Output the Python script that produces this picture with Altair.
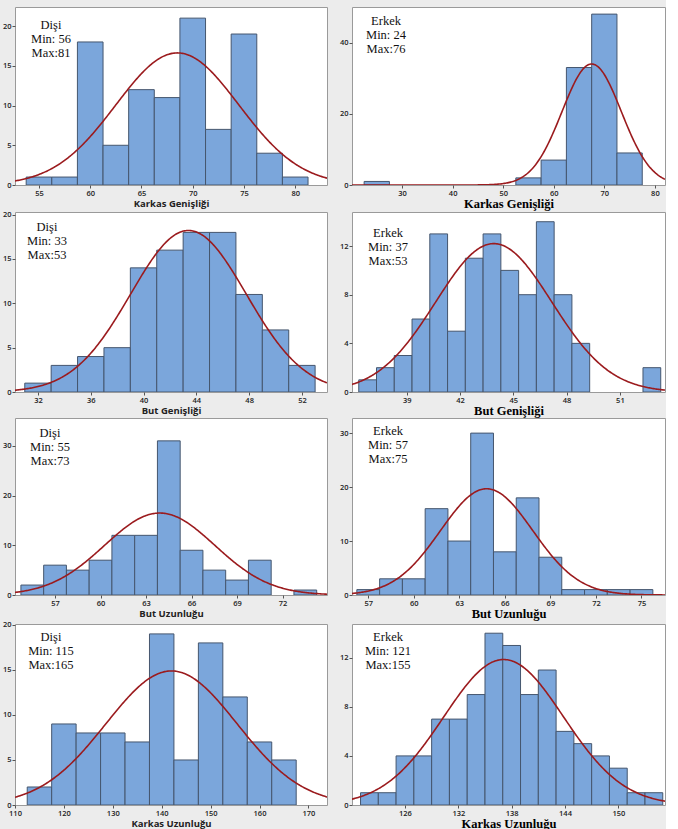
import altair as alt
import pandas as pd

# ---------------- values ----------------
# 1) Dişi - Karkas Genişliği
kg_f_mid = [55, 57.5, 60, 62.5, 65, 67.5, 70, 72.5, 75, 77.5, 80]
kg_f_cnt = [1, 1, 18, 5, 12, 11, 21, 7, 19, 4, 1]
kg_f_fit = [68.5, 6.0]          # mean, sd of the fitted normal curve
# 2) Erkek - Karkas Genişliği
kg_m_mid = [25, 55, 60, 65, 70, 75]
kg_m_cnt = [1, 2, 7, 33, 48, 9]
kg_m_fit = [67.5, 5.87]
# 3) Dişi - But Genişliği
bg_f_mid = [32, 34, 36, 38, 40, 42, 44, 46, 48, 50, 52]
bg_f_cnt = [1, 3, 4, 5, 14, 16, 18, 18, 11, 7, 3]
bg_f_fit = [43.4, 4.38]
# 4) Erkek - But Genişliği
bg_m_mid = [36.8, 37.8, 38.8, 39.8, 40.8, 41.8, 42.8, 43.8, 44.8, 45.8, 46.8, 47.8, 48.8, 52.8]
bg_m_cnt = [1, 2, 3, 6, 13, 5, 11, 13, 10, 8, 14, 8, 4, 2]
bg_m_fit = [43.9, 3.27]
# 5) Dişi - But Uzunluğu
bu_f_mid = [55.5, 57, 58.5, 60, 61.5, 63, 64.5, 66, 67.5, 69, 70.5, 73.5]
bu_f_cnt = [2, 6, 5, 7, 12, 12, 31, 9, 5, 3, 7, 1]
bu_f_fit = [63.9, 3.63]
# 6) Erkek - But Uzunluğu
bu_m_mid = [57, 58.5, 60, 61.5, 63, 64.5, 66, 67.5, 69, 70.5, 72, 73.5, 75]
bu_m_cnt = [1, 3, 3, 16, 10, 30, 8, 18, 7, 1, 1, 1, 1]
bu_m_fit = [64.8, 3.04]
# 7) Dişi - Karkas Uzunluğu
ku_f_mid = [115, 120, 125, 130, 135, 140, 145, 150, 155, 160, 165]
ku_f_cnt = [2, 9, 8, 8, 7, 19, 5, 18, 12, 7, 5]
ku_f_fit = [142.0, 13.4]
# 8) Erkek - Karkas Uzunluğu
ku_m_mid = [122, 124, 126, 128, 130, 132, 134, 136, 138, 140, 142, 144, 146, 148, 150, 152, 154]
ku_m_cnt = [1, 1, 4, 4, 7, 7, 9, 14, 13, 9, 11, 6, 5, 4, 3, 1, 1]
ku_m_fit = [137.1, 6.73]

bin_widths = [2.5, 5, 2, 1, 1.5, 1.5, 5, 2]
groups = ["Dişi", "Erkek", "Dişi", "Erkek", "Dişi", "Erkek", "Dişi", "Erkek"]
mins = [56, 24, 33, 37, 55, 57, 115, 121]
maxs = [81, 76, 53, 53, 73, 75, 165, 155]
x_titles = ["Karkas Genişliği", "Karkas Genişliği", "But Genişliği", "But Genişliği",
            "But Uzunluğu", "But Uzunluğu", "Karkas Uzunluğu", "Karkas Uzunluğu"]
x_ticks = [[55, 60, 65, 70, 75, 80], [30, 40, 50, 60, 70, 80], [32, 36, 40, 44, 48, 52],
           [39, 42, 45, 48, 51], [57, 60, 63, 66, 69, 72], [57, 60, 63, 66, 69, 72, 75],
           [110, 120, 130, 140, 150, 160, 170], [126, 132, 138, 144, 150]]
y_ticks = [[0, 5, 10, 15, 20], [0, 10, 20, 30, 40, 50], [0, 5, 10, 15, 20],
           [0, 2, 4, 6, 8, 10, 12, 14], [0, 5, 10, 15, 20, 25, 30, 35],
           [0, 5, 10, 15, 20, 25, 30], [0, 5, 10, 15, 20], [0, 2, 4, 6, 8, 10, 12, 14]]

mids = [kg_f_mid, kg_m_mid, bg_f_mid, bg_m_mid, bu_f_mid, bu_m_mid, ku_f_mid, ku_m_mid]
cnts = [kg_f_cnt, kg_m_cnt, bg_f_cnt, bg_m_cnt, bu_f_cnt, bu_m_cnt, ku_f_cnt, ku_m_cnt]
fits = [kg_f_fit, kg_m_fit, bg_f_fit, bg_m_fit, bu_f_fit, bu_m_fit, ku_f_fit, ku_m_fit]

# ---------------- layout (not data) ----------------
x_domains = [[52.66, 83.1], [20.1, 82.0], [30.26, 53.9], [35.92, 53.54],
             [54.36, 74.93], [55.93, 76.55], [110, 173.8], [120.04, 155.25]]
y_max = [22.4, 50.0, 20.3, 14.8, 35.6, 32.8, 20.1, 14.75]
row_h = [178, 180, 177, 181]
col_w = [312, 313]
txt_pos = [(36, 22), (34, 18), (32, 19), (36, 25), (35, 19), (36, 17), (36, 17), (36, 17)]

BAR_FILL = "#7BA6DB"
BAR_STROKE = "#45566E"
CURVE = "#9B1B1E"


def panel(i):
    mid, cnt, bw = mids[i], cnts[i], bin_widths[i]
    mu, sd = fits[i]
    n = sum(cnt)
    lo, hi = x_domains[i]
    right = i % 2 == 1
    w = col_w[1 if right else 0]
    h = row_h[i // 2]

    df = pd.DataFrame({"mid": mid, "count": cnt})
    df["start"] = df["mid"] - bw / 2
    df["end"] = df["mid"] + bw / 2
    df["base"] = 0

    xs = alt.Scale(domain=[lo, hi], nice=False, zero=False)
    ys = alt.Scale(domain=[0, y_max[i]], nice=False, zero=True)
    if right:
        tfont, tsize, tpad = "Liberation Serif", 12.5, 0
        tcol = "#000000"
    else:
        tfont, tsize, tpad = "Open Sans", 9.5, 1
        tcol = "#222222"
    xaxis = alt.Axis(values=x_ticks[i], title=x_titles[i], titleFont=tfont,
                     titleFontSize=tsize, titleFontWeight="bold", titleColor=tcol,
                     titlePadding=tpad, labelFlush=False, labelOverlap=False)
    yaxis = alt.Axis(values=y_ticks[i], title=None, labelOverlap=False)

    bars = alt.Chart(df).mark_rect(fill=BAR_FILL, stroke=BAR_STROKE, strokeWidth=1,
                                   clip=True).encode(
        x=alt.X("start:Q", scale=xs, axis=xaxis),
        x2="end:Q",
        y=alt.Y("count:Q", scale=ys, axis=yaxis),
        y2="base:Q",
    )
    step = (hi - lo) / 300.0
    expr = (f"{n * bw} / ({sd} * sqrt(2 * PI)) * "
            f"exp(-0.5 * pow((datum.x - {mu}) / {sd}, 2))")
    curve = alt.Chart(alt.sequence(lo, hi + step, step, as_="x")).transform_calculate(
        dens=expr
    ).mark_line(color=CURVE, strokeWidth=1.6, clip=True).encode(
        x=alt.X("x:Q", scale=xs),
        y=alt.Y("dens:Q", scale=ys),
    )
    tx, ty = txt_pos[i]
    label = alt.Chart(pd.DataFrame({"k": [0]})).mark_text(
        text=[groups[i], f"Min: {mins[i]}", f"Max:{maxs[i]}"],
        font="Liberation Serif", fontSize=12.5, lineHeight=14,
        align="center", baseline="alphabetic", color="#111111",
    ).encode(x=alt.value(tx), y=alt.value(ty))
    return alt.layer(bars, curve, label).properties(width=w, height=h)


rows = [alt.hconcat(panel(2 * r), panel(2 * r + 1), spacing=10) for r in range(4)]

chart = alt.vconcat(*rows, spacing=0).properties(
    padding={"left": 1, "top": 6, "right": 0, "bottom": 0},
    background="#ECECEC",
).configure_view(
    fill="white", stroke="#9A9A9A", strokeWidth=1
).configure_axis(
    domain=False, grid=False, ticks=True, tickSize=3, tickColor="#555555",
    labelFont="Open Sans", labelFontSize=7.5, labelFontWeight=600, labelColor="#222222",
    labelPadding=1, minExtent=12, maxExtent=12,
)

chart.save("out.html", embed_options={"renderer": "svg", "actions": False})
